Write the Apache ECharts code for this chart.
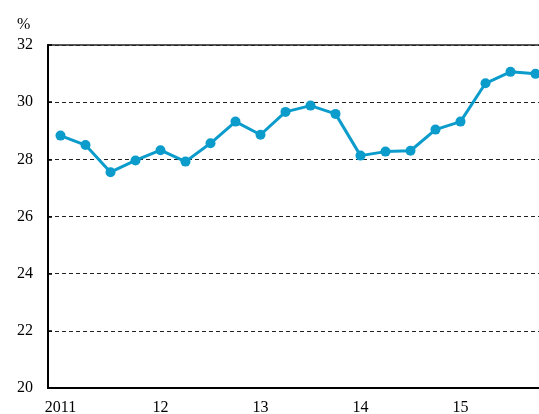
<!DOCTYPE html>
<html>
<head>
<meta charset="utf-8">
<script src="https://cdn.jsdelivr.net/npm/echarts@6/dist/echarts.min.js"></script>
<style>
    html, body { margin: 0; padding: 0; background: #fff; }
    #main { width: 539px; height: 414px; }
</style>
</head>
<body>
<div id="main"></div>
<script>
// 季度数据 2011Q1 - 2015Q4
let quarters = ['2011Q1', '2011Q2', '2011Q3', '2011Q4',
    '2012Q1', '2012Q2', '2012Q3', '2012Q4',
    '2013Q1', '2013Q2', '2013Q3', '2013Q4',
    '2014Q1', '2014Q2', '2014Q3', '2014Q4',
    '2015Q1', '2015Q2', '2015Q3', '2015Q4'];
let values = [28.83, 28.50, 27.55, 27.96,
    28.32, 27.92, 28.56, 29.32,
    28.86, 29.66, 29.88, 29.59,
    28.13, 28.27, 28.30, 29.04,
    29.32, 30.66, 31.06, 30.99];
let yearLabels = ['2011', '12', '13', '14', '15'];

let font = 'Liberation Serif';

let myChart = echarts.init(document.getElementById('main'));
let option = {
    animation: false,
    title: {
        text: '%',
        left: 12,
        top: 12,
        textStyle: {fontFamily: font, fontSize: 16, fontWeight: 'normal', color: '#000'}
    },
    grid: {
        left: 48,
        top: 45,
        width: 500,
        height: 343,
        outerBoundsMode: 'none',
        containLabel: false,
        show: true,
        borderColor: '#222',
        borderWidth: 1.5
    },
    xAxis: {
        type: 'category',
        data: quarters,
        boundaryGap: true,
        axisLine: {lineStyle: {color: '#000', width: 2}},
        axisTick: {
            inside: true,
            length: 4,
            lineStyle: {color: '#000', width: 1.5},
            interval: function (index) {
                return index % 4 === 0;
            }
        },
        axisLabel: {
            margin: 12,
            fontFamily: font,
            fontSize: 16,
            color: '#000',
            interval: function (index) {
                return index % 4 === 0;
            },
            formatter: function (value, index) {
                return yearLabels[Math.floor(index / 4)];
            }
        }
    },
    yAxis: {
        type: 'value',
        min: 20,
        max: 32,
        interval: 2,
        axisLine: {show: true, lineStyle: {color: '#000', width: 2}},
        axisTick: {show: true, inside: true, length: 4, lineStyle: {color: '#000', width: 1.5}},
        axisLabel: {margin: 15, fontFamily: font, fontSize: 16, color: '#000'},
        splitLine: {
            show: true,
            lineStyle: {color: '#222', width: 1, type: [4, 3]}
        }
    },
    series: [
        {
            type: 'line',
            data: values,
            symbol: 'circle',
            symbolSize: 10,
            itemStyle: {color: '#0b9ccc'},
            lineStyle: {color: '#0b9ccc', width: 3}
        }
    ]
};
myChart.setOption(option);
</script>
</body>
</html>
